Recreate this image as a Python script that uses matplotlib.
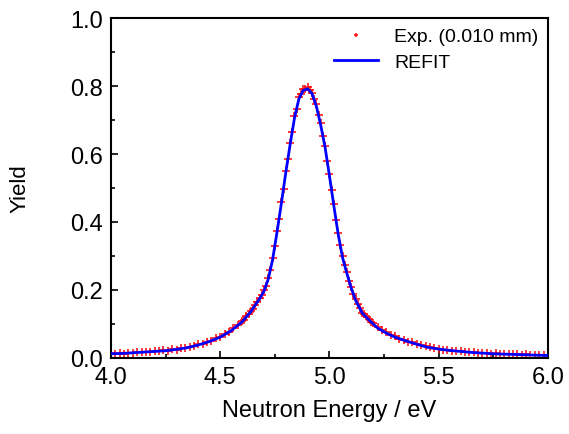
import matplotlib
matplotlib.use("Agg")
import matplotlib.pyplot as plt
from matplotlib.ticker import MultipleLocator

plt.rcParams['font.family'] = ['Liberation Sans', 'DejaVu Sans']

# REFIT curve (energy in eV, yield)
refit_e = [4.00, 4.05, 4.10, 4.15, 4.20, 4.25, 4.30, 4.35, 4.40, 4.45,
           4.50, 4.55, 4.60, 4.64, 4.68, 4.70, 4.72, 4.74, 4.76, 4.78,
           4.80, 4.82, 4.84, 4.86, 4.88, 4.90, 4.92, 4.94, 4.96, 4.98,
           5.00, 5.02, 5.04, 5.06, 5.08, 5.10, 5.12, 5.15, 5.18, 5.22,
           5.26, 5.30, 5.35, 5.40, 5.45, 5.50, 5.55, 5.60, 5.65, 5.70,
           5.75, 5.80, 5.85, 5.90, 5.95, 6.00]
refit_y = [0.012, 0.013, 0.015, 0.017, 0.019, 0.021, 0.025, 0.030, 0.038, 0.048,
           0.061, 0.080, 0.106, 0.136, 0.174, 0.196, 0.232, 0.290, 0.370, 0.455,
           0.545, 0.628, 0.706, 0.762, 0.787, 0.792, 0.778, 0.741, 0.685, 0.620,
           0.536, 0.448, 0.364, 0.295, 0.248, 0.205, 0.169, 0.132, 0.112, 0.088,
           0.073, 0.061, 0.050, 0.040, 0.031, 0.026, 0.022, 0.019, 0.016, 0.014,
           0.012, 0.011, 0.010, 0.009, 0.008, 0.007]

# experimental points (0.010 mm sample)
exp_e = [4.00, 4.02, 4.04, 4.06, 4.08, 4.10, 4.12, 4.14, 4.16, 4.18,
         4.20, 4.22, 4.24, 4.26, 4.28, 4.30, 4.32, 4.34, 4.36, 4.38,
         4.40, 4.42, 4.44, 4.46, 4.48, 4.50, 4.52, 4.54, 4.56, 4.58,
         4.60, 4.61, 4.62, 4.63, 4.64, 4.65, 4.66, 4.67, 4.68, 4.69,
         4.70, 4.71, 4.72, 4.73, 4.74, 4.75, 4.76, 4.77, 4.78, 4.79,
         4.80, 4.81, 4.82, 4.83, 4.84, 4.85, 4.86, 4.87, 4.88, 4.89,
         4.90, 4.91, 4.92, 4.93, 4.94, 4.95, 4.96, 4.97, 4.98, 4.99,
         5.00, 5.01, 5.02, 5.03, 5.04, 5.05, 5.06, 5.07, 5.08, 5.09,
         5.10, 5.11, 5.12, 5.13, 5.14, 5.15, 5.16, 5.17, 5.18, 5.19,
         5.20, 5.22, 5.24, 5.26, 5.28, 5.30, 5.32, 5.34, 5.36, 5.38,
         5.40, 5.42, 5.44, 5.46, 5.48, 5.50, 5.52, 5.54, 5.56, 5.58,
         5.60, 5.62, 5.64, 5.66, 5.68, 5.70, 5.72, 5.74, 5.76, 5.78,
         5.80, 5.82, 5.84, 5.86, 5.88, 5.90, 5.92, 5.94, 5.96, 5.98,
         6.00]
exp_y = [0.013, 0.011, 0.014, 0.012, 0.015, 0.014, 0.017, 0.016, 0.018, 0.017,
         0.020, 0.019, 0.022, 0.021, 0.025, 0.024, 0.028, 0.028, 0.033, 0.034,
         0.040, 0.041, 0.048, 0.050, 0.058, 0.062, 0.070, 0.077, 0.087, 0.096,
         0.108, 0.112, 0.123, 0.128, 0.139, 0.145, 0.157, 0.163, 0.177, 0.184,
         0.199, 0.212, 0.236, 0.259, 0.294, 0.328, 0.374, 0.410, 0.459, 0.498,
         0.549, 0.585, 0.633, 0.665, 0.711, 0.733, 0.767, 0.776, 0.790, 0.792,
         0.796, 0.789, 0.781, 0.761, 0.746, 0.715, 0.690, 0.653, 0.625, 0.579,
         0.541, 0.493, 0.453, 0.407, 0.368, 0.331, 0.299, 0.272, 0.252, 0.227,
         0.208, 0.188, 0.172, 0.158, 0.147, 0.133, 0.128, 0.119, 0.115, 0.107,
         0.102, 0.090, 0.081, 0.075, 0.068, 0.063, 0.057, 0.054, 0.048, 0.046,
         0.041, 0.037, 0.034, 0.031, 0.029, 0.027, 0.024, 0.024, 0.021, 0.021,
         0.019, 0.018, 0.017, 0.016, 0.015, 0.014, 0.014, 0.012, 0.013, 0.011,
         0.012, 0.010, 0.011, 0.010, 0.009, 0.010, 0.008, 0.009, 0.008, 0.007,
         0.008]

fig = plt.figure(figsize=(5.69, 4.35), dpi=100)
ax = fig.add_axes([0.195, 0.175, 0.768, 0.781])

ax.plot(exp_e, exp_y, linestyle='none', marker='+', color='red', alpha=0.9,
        markersize=6, markeredgewidth=1.2, label='Exp. (0.010 mm)', zorder=2)
ax.plot(refit_e, refit_y, color='blue', linewidth=2.0, label='REFIT', zorder=3)

ax.set_xlim(4.0, 6.0)
ax.set_ylim(0.0, 1.0)
ax.xaxis.set_major_locator(MultipleLocator(0.5))
ax.xaxis.set_minor_locator(MultipleLocator(0.25))
ax.yaxis.set_major_locator(MultipleLocator(0.2))
ax.yaxis.set_minor_locator(MultipleLocator(0.1))
ax.xaxis.set_major_formatter(plt.FormatStrFormatter('%.1f'))
ax.yaxis.set_major_formatter(plt.FormatStrFormatter('%.1f'))

ax.tick_params(which='both', direction='in', top=False, right=False,
               width=1.2, labelsize=17, pad=6)
ax.tick_params(which='major', length=5)
ax.tick_params(which='minor', length=3)
for s in ax.spines.values():
    s.set_linewidth(1.5)

ax.set_xlabel('Neutron Energy / eV', fontsize=17, labelpad=8)
ax.set_ylabel('Yield', fontsize=16, labelpad=28)

ax.legend(loc='upper right', frameon=False, fontsize=14, markerscale=0.55,
          handlelength=2.3, borderaxespad=0.0, borderpad=0.5,
          labelspacing=0.4)

fig.savefig('out.png', dpi=100)
